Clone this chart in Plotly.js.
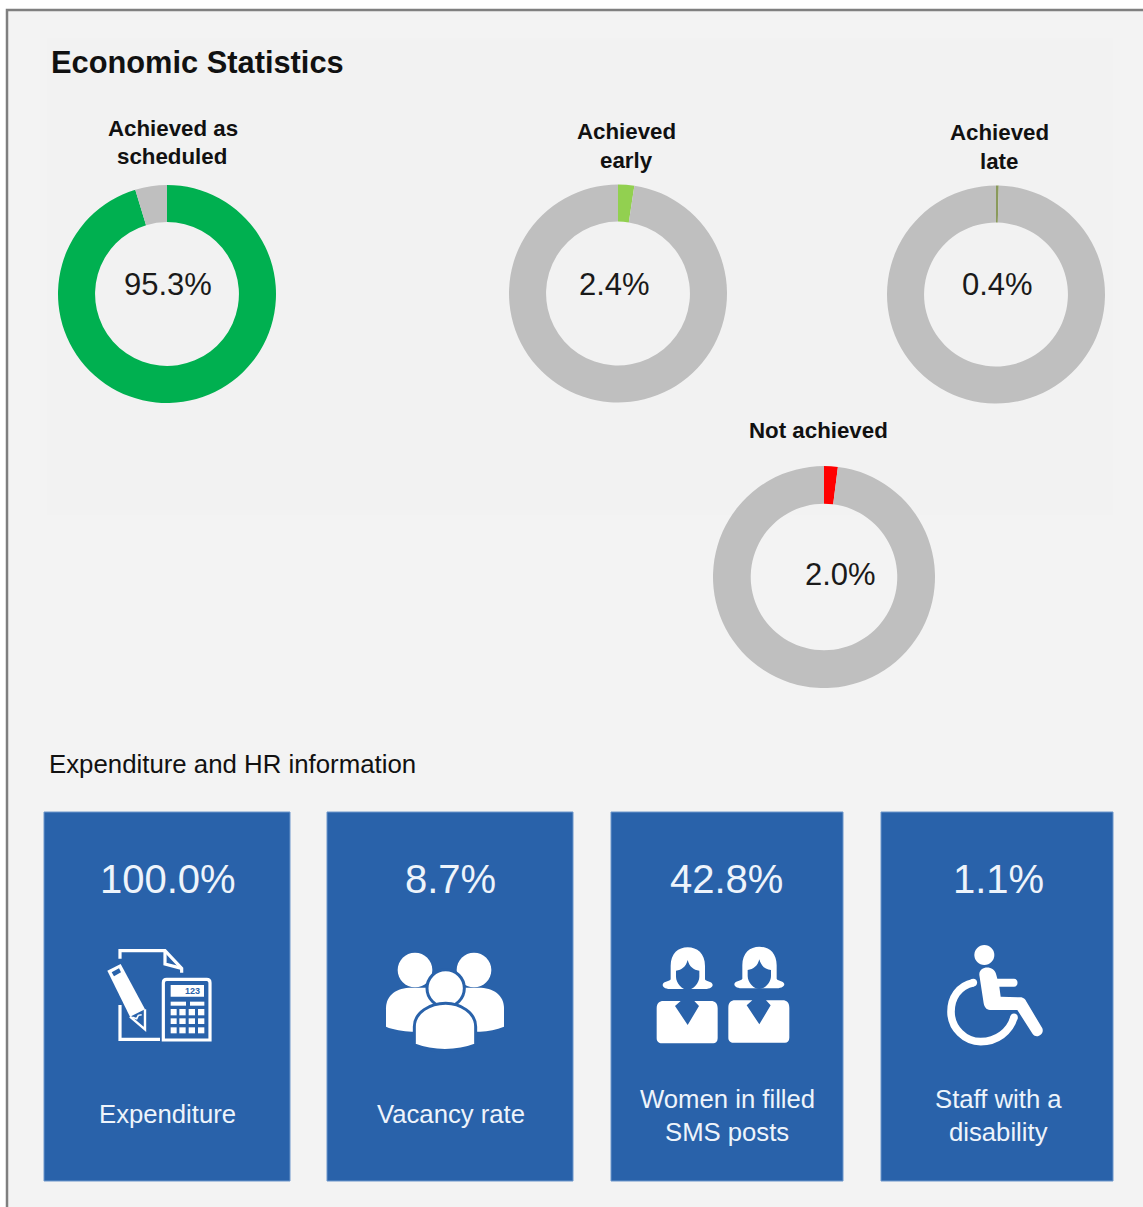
<!DOCTYPE html>
<html><head><meta charset="utf-8">
<script src="https://cdn.plot.ly/plotly-3.0.1.min.js"></script>
<style>html,body{margin:0;padding:0;background:#fff;overflow:hidden}#c{width:1143px;height:1207px}</style>
</head><body><div id="c"></div>
<script>
const W = 1143, H = 1207, FONT = '"Liberation Sans", Arial, sans-serif';

// ---- data ----
const donutNames = ['Achieved as scheduled', 'Achieved early', 'Achieved late', 'Not achieved'];
const donutValues = [95.3, 2.4, 0.4, 2.0];
const donutColors = ['#00b050', '#92d050', '#8a9a5b', '#ff0000'];
const donutTitleLines = [['Achieved as', 'scheduled'], ['Achieved', 'early'], ['Achieved', 'late'], ['Not achieved']];
const tileValues = [100.0, 8.7, 42.8, 1.1];
const tileLabelLines = [['Expenditure'], ['Vacancy rate'], ['Women in filled', 'SMS posts'], ['Staff with a', 'disability']];

// ---- layout geometry (pixels) ----
const donutGeom = [[167, 294, 109], [618, 293.5, 109], [996, 294.5, 109], [824, 577, 111]];
const donutValuePos = [[168, 285], [614, 285], [997, 285], [840, 575]];
const donutTitlePos = [[[173.5, 128], [172, 156]], [[626, 131], [626, 160]], [[999, 132], [999, 161]], [[818, 430]]];
const tileRects = [[44, 290], [327, 573], [611, 843], [881, 1113]];
const tileTop = 812, tileBottom = 1181;
const tileValueX = [168, 450, 726, 998];
const tileLabelX = [167, 451, 727, 998];

const px = x => x / W, py = y => 1 - y / H;

// converts "x,y" pairs of an icon path from zoomed space to paper space
function iconPath(d, ox, oy, s, dx, dy) {
  return d.replace(/(-?[\d.]+),(-?[\d.]+)/g, (m, a, b) =>
    px(ox + (+a + (dx || 0)) / s).toFixed(6) + ',' + py(oy + (+b + (dy || 0)) / s).toFixed(6));
}
function circle(cx, cy, r) {
  const k = 0.5523 * r;
  return `M${cx - r},${cy} C${cx - r},${cy - k} ${cx - k},${cy - r} ${cx},${cy - r} C${cx + k},${cy - r} ${cx + r},${cy - k} ${cx + r},${cy} C${cx + r},${cy + k} ${cx + k},${cy + r} ${cx},${cy + r} C${cx - k},${cy + r} ${cx - r},${cy + k} ${cx - r},${cy} Z`;
}
function rectP(x0, y0, x1, y1) { return `M${x0},${y0} L${x1},${y0} L${x1},${y1} L${x0},${y1} Z`; }

const WHITE = '#ffffff', BLUE = '#2962aa';
const shapes = [];
function fillP(d, color) { shapes.push({type: 'path', xref: 'paper', yref: 'paper', path: d, fillcolor: color || WHITE, line: {width: 0}, layer: 'above'}); }
function strokeP(d, w, color, fill) { shapes.push({type: 'path', xref: 'paper', yref: 'paper', path: d, fillcolor: fill || 'rgba(0,0,0,0)', line: {color: color || WHITE, width: w}, layer: 'above'}); }
function box(x0, y0, x1, y1, fill, lineColor, lw, layer) {
  shapes.push({type: 'rect', xref: 'paper', yref: 'paper', x0: px(x0), x1: px(x1), y0: py(y1), y1: py(y0),
    fillcolor: fill, line: {color: lineColor || fill, width: lw || 0}, layer: layer || 'below'});
}

// panel
box(7, 10, W + 5, H + 5, '#f3f3f3', '#7f7f7f', 2.5);
box(47, 38, 1113, 515, '#f2f2f2');

// tiles
tileRects.forEach(r => box(r[0], tileTop, r[1], tileBottom, BLUE, '#6d96cb', 1));

// expenditure icon (zoom space, origin 100,940, scale 3)
{
  const I = d => iconPath(d, 100, 940, 3);
  strokeP(I('M60,56 L60,32 L195,32 L245,85 L245,98'), 3.2);
  strokeP(I('M195,32 L195,72 L245,85'), 3.2);
  strokeP(I('M60,195 L60,298 L180,298'), 3.2);
  fillP(I('M22,92 L62,72 L135,208 L90,230 Z'));
  fillP(I('M35,97 L57,85 L63,97 L42,109 Z'), BLUE);
  strokeP(I('M90,230 L135,268 L135,208'), 2.4);
  strokeP(I('M97,232 L110,236 L115,226 L125,224'), 1.6);
  strokeP(I('M200,118 L320,118 C327,118 330,122 330,128 L330,300 L190,300 L190,128 C190,122 193,118 200,118 Z'), 3.2);
  fillP(I(rectP(212, 135, 312, 170)));
  fillP(I(rectP(212, 185, 258, 197)));
  fillP(I(rectP(270, 185, 313, 197)));
  [[212, 230], [238, 257], [266, 285], [294, 313]].forEach(c =>
    [[207, 226], [235, 252], [262, 280]].forEach(r => fillP(I(rectP(c[0], r[0], c[1], r[1])))));
}
// vacancy icon (origin 380,945, scale 3)
{
  const I = d => iconPath(d, 380, 945, 3);
  fillP(I(circle(105, 75, 52)));
  fillP(I(circle(282, 75, 52)));
  fillP(I('M18,245 L18,190 C18,150 50,128 95,128 L295,128 C340,128 372,150 372,190 L372,245 C350,255 325,258 300,260 L95,260 C70,258 40,255 18,245 Z'));
  strokeP(I(circle(197, 130, 56)), 3, BLUE, WHITE);
  strokeP(I('M103,300 L103,245 C103,202 150,175 197,175 C240,175 287,202 287,245 L287,300 C230,322 160,322 103,300 Z'), 3, BLUE, WHITE);
}
// women icon (origin 650,940, scale 3)
{
  const hair = 'M62,118 L62,78 C62,40 85,22 113,22 C141,22 165,40 165,78 L165,118 C166,124 186,124 188,134 C188,144 175,147 160,147 L65,147 C50,147 38,144 38,134 C40,124 60,124 62,118 Z';
  const face = 'M113,60 C108,80 95,90 78,92 L78,110 C78,130 97,149 113,149 C129,149 148,130 148,110 L148,92 C131,90 118,80 113,60 Z';
  const body = 'M40,183 L92,183 L75,198 L113,255 L147,198 L133,183 L183,183 C195,183 203,190 203,205 L203,295 C203,305 197,310 190,310 L35,310 C27,310 20,305 20,295 L20,205 C20,190 28,183 40,183 Z';
  [[0, 0], [215, -2]].forEach(o => {
    const I = d => iconPath(d, 650, 940, 3, o[0], o[1]);
    fillP(I(hair)); fillP(I(face), BLUE); fillP(I(body));
  });
}
// wheelchair icon (origin 940,940, scale 3)
{
  const I = d => iconPath(d, 940, 940, 3);
  fillP(I(circle(133, 45, 30)));
  fillP(I('M118,105 C116,78 162,73 169,105 L172,116 L222,116 C236,116 236,140 222,140 L178,140 L182,170 L240,172 C252,172 257,180 260,186 L307,265 C314,282 290,298 278,282 L232,210 L150,210 C138,210 133,200 131,190 Z'));
  strokeP(I('M100,128 C55,137 33,175 33,215 C33,265 75,305 122,305 C170,305 210,275 222,232'), 7.6);
  fillP(I(circle(100, 128, 11.4)));
  fillP(I(circle(222, 232, 11.4)));
}

// ---- text ----
const annotations = [];
function text(str, x, y, size, color, anchor, bold) {
  annotations.push({text: bold ? '<b>' + str + '</b>' : str, x: px(x), y: py(y), xref: 'paper', yref: 'paper',
    xanchor: anchor || 'center', yanchor: 'middle', showarrow: false,
    font: {family: FONT, size: size, color: color || '#111111'}});
}
text('Economic Statistics', 49, 63, 30.8, '#111111', 'left', true);
text('Expenditure and HR information', 47, 764, 25.8, '#111111', 'left');
donutTitleLines.forEach((lines, i) => lines.forEach((l, j) =>
  text(l, donutTitlePos[i][j][0], donutTitlePos[i][j][1], 22.3, '#111111', 'center', true)));
donutValues.forEach((v, i) => text(v.toFixed(1) + '%', donutValuePos[i][0], donutValuePos[i][1], 31, '#1a1a1a'));
tileValues.forEach((v, i) => text(v.toFixed(1) + '%', tileValueX[i], 879, 40, '#eef4fb'));
tileLabelLines.forEach((lines, i) => {
  const ys = lines.length === 1 ? [1114] : [1099, 1132];
  lines.forEach((l, j) => text(l, tileLabelX[i], ys[j], 25.7, '#eef4fb'));
});
annotations.push({text: '<b>123</b>', x: px(202), y: py(991), xref: 'paper', yref: 'paper', xanchor: 'right', yanchor: 'middle',
  showarrow: false, font: {family: FONT, size: 9, color: BLUE}});

// ---- donuts ----
const traces = donutValues.map((v, i) => {
  const [cx, cy, r] = donutGeom[i];
  return {
    type: 'pie', name: donutNames[i], labels: [donutNames[i], 'Other'], values: [v, 100 - v],
    marker: {colors: [donutColors[i], '#bfbfbf'], line: {width: 0}},
    hole: 0.66, sort: false, direction: 'clockwise', rotation: 0,
    textinfo: 'none', hoverinfo: 'none', showlegend: false,
    domain: {x: [px(cx - r), px(cx + r)], y: [py(cy + r), py(cy - r)]}
  };
});

Plotly.newPlot('c', traces, {
  width: W, height: H, margin: {l: 0, r: 0, t: 0, b: 0}, paper_bgcolor: '#ffffff', plot_bgcolor: 'rgba(0,0,0,0)',
  showlegend: false, shapes: shapes, annotations: annotations
}, {displayModeBar: false, responsive: false});
</script></body></html>
